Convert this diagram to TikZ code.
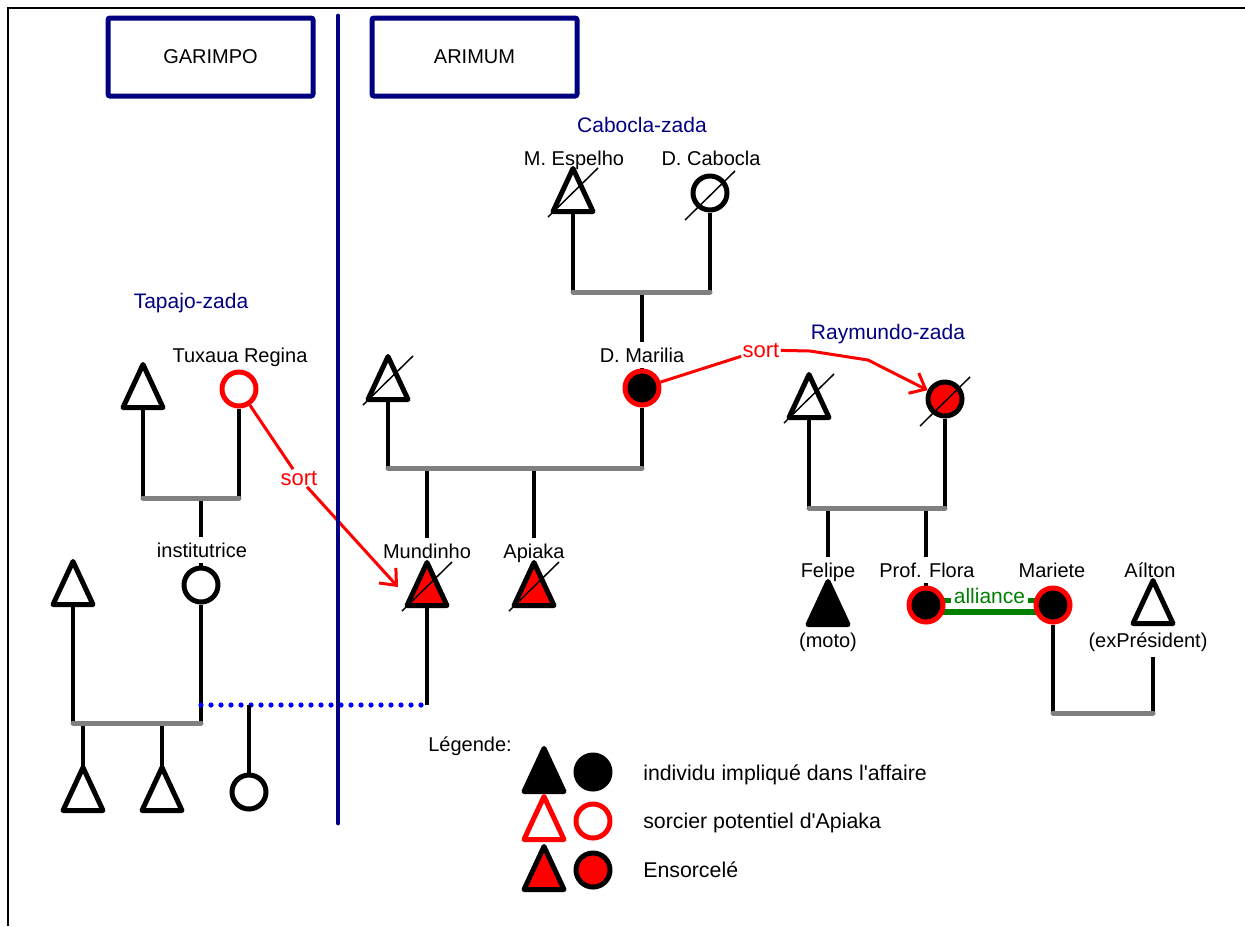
\documentclass[tikz,border=0pt]{standalone}
\usepackage{fontspec}
\setmainfont{Liberation Sans}
\usepackage{xcolor}
\usepackage{tikz}
\usetikzlibrary{arrows.meta,positioning,calc}

\definecolor{navyb}{RGB}{0,0,128}
\definecolor{allig}{RGB}{0,128,0}
\definecolor{barg}{RGB}{128,128,128}

\pgfdeclarelayer{back}
\pgfsetlayers{back,main}

\tikzset{
  male/.pic={
    \path[pic actions] (0,-21.5) -- (20,21.5) -- (-20,21.5) -- cycle;
    \coordinate (-n) at (0,-21.5);
    \coordinate (-s) at (0,21.5);
    \coordinate (-c) at (0,0);
  },
  dead/.pic={\draw[black,line width=1.1pt] (-25,27) -- (25,-22);}
}

\begin{document}
\begin{tikzpicture}[x=0.75pt,y=-0.75pt,
  txt/.style={font=\fontsize{15}{18}\selectfont},
  bigtxt/.style={font=\fontsize{15.75}{19}\selectfont},
  lab/.style={txt,fill=white,inner xsep=2pt,inner ysep=4.5pt,anchor=base},
  zada/.style={bigtxt,navyb,anchor=base},
  sorttxt/.style={font=\fontsize{16.5}{19}\selectfont,red,inner sep=1pt,anchor=base},
  legtxt/.style={font=\fontsize{16}{19}\selectfont,inner sep=0pt,anchor=base west},
  zone/.style={txt,draw=navyb,line width=3.75pt,rounded corners=1.5pt,
               minimum width=153.75pt,minimum height=58.5pt},
  sym/.style={draw=black,fill=white,line width=3.75pt,line join=round},
  impl/.style={sym,fill=black},
  sorc/.style={sym,draw=red},
  ens/.style={sym,fill=red},
  ring/.style={sym,draw=red,fill=black},
  fem/.style={circle,minimum size=25.5pt,inner sep=0pt},
  kin/.style={line width=3.6pt},
  bar/.style={barg,line width=3.75pt,line cap=round},
  sortarr/.style={red,line width=2.25pt,
                  -{Straight Barb[length=10pt,width=17pt,line width=2.25pt]}},
  alli/.style={allig,line width=4.5pt},
  dotlink/.style={blue,line width=3.9pt,line cap=round,dash pattern=on 0pt off 7.5pt}]

  \useasboundingbox (0,0) rectangle (1245,926);
  \draw[line width=1.5pt] (8,926) -- (8,7.5) -- (1245,7.5);

  % zones
  \node[zone] (garimpo) at (210.5,57) {GARIMPO};
  \node[zone] (arimum) at (474.5,57) {ARIMUM};
  \coordinate (sepT) at (338,16);
  \coordinate (sepB) at (338,823);
  \draw[navyb,line width=3.6pt,line cap=round] (sepT) -- (sepB);

  % labels
  \node[zada] (cabz) at (642,132) {Cabocla-zada};
  \node[zada] (raymz) at (888,339) {Raymundo-zada};
  \node[zada] (tapz) at (191,308) {Tapajo-zada};
  \node[lab] (lmesp) at (574,165) {M. Espelho};
  \node[lab] (ldcab) at (711,165) {D. Cabocla};
  \node[lab] (ldmar) at (642,362) {D. Marilia};
  \node[lab] (ltux) at (240,362) {Tuxaua Regina};
  \node[lab] (linst) at (202,557) {institutrice};
  \node[lab] (lmund) at (427,558) {Mundinho};
  \node[lab] (lapia) at (534,558) {Apiaka};
  \node[lab] (lfeli) at (828,577) {Felipe};
  \node[lab] (lflora) at (927,577) {Prof. Flora};
  \node[lab] (lmari) at (1052,577) {Mariete};
  \node[lab] (lailt) at (1150,577) {Aílton};
  \node[lab] (lmoto) at (828,647) {(moto)};
  \node[lab] (lexp) at (1148,647) {(exPrésident)};
  \node[sorttxt] (sortA) at (299,485) {sort};
  \node[sorttxt] (sortB) at (761,357) {sort};

  % Cabocla-zada
  \pic[sym] (mesp) at (573,190) {male};
  \pic at (mesp-c) {dead};
  \node[fem,sym] (dcab) at (710,193) {};
  \pic at (dcab) {dead};
  \node[fem,ring] (dmar) at (642,388) {};

  % Arimum
  \pic[sym] (arm) at (388,378) {male};
  \pic at (arm-c) {dead};
  \pic[ens] (mund) at (427,584) {male};
  \pic at (mund-c) {dead};
  \pic[ens] (apia) at (534,584) {male};
  \pic at (apia-c) {dead};

  % Raymundo-zada
  \pic[sym] (rmal) at (809,396) {male};
  \pic at (rmal-c) {dead};
  \node[fem,ens] (rfem) at (945,399) {};
  \pic at (rfem) {dead};
  \pic[impl] (feli) at (828,603) {male};
  \node[fem,ring] (flora) at (926,605) {};
  \node[fem,ring] (mari) at (1053,605) {};
  \pic[sym] (ailt) at (1153,602) {male};

  % Tapajo-zada and garimpo
  \pic[sym] (tmal) at (143,386) {male};
  \node[fem,sorc] (tux) at (239,389) {};
  \pic[sym] (lmal) at (73,583) {male};
  \node[fem,sym] (inst) at (201,585) {};
  \pic[sym] (kid1) at (83,789) {male};
  \pic[sym] (kid2) at (162,789) {male};
  \node[fem,sym] (kid3) at (249,792) {};

  % legend
  \node[txt,anchor=base] (leg) at (470,751) {Légende:};
  \pic[impl] (lg1t) at (544,770) {male};
  \node[fem,impl] (lg1c) at (593,772) {};
  \pic[sorc] (lg2t) at (544,818) {male};
  \node[fem,sorc] (lg2c) at (593,821) {};
  \pic[ens] (lg3t) at (544,868) {male};
  \node[fem,ens] (lg3c) at (593,870) {};
  \node[legtxt] (leg1) at (643,780) {individu impliqué dans l\textquotesingle affaire};
  \node[legtxt] (leg2) at (643,828) {sorcier potentiel d\textquotesingle Apiaka};
  \node[legtxt] (leg3) at (643,877) {Ensorcelé};

  % junctions
  \coordinate (cabL) at (573,292); \coordinate (cabR) at (710,292);
  \coordinate (cabM) at (642,292);
  \coordinate (arL) at (388,468); \coordinate (arR) at (642,468);
  \coordinate (arM1) at (427,468); \coordinate (arM2) at (534,468);
  \coordinate (mundB) at (427,705);
  \coordinate (raL) at (809,508); \coordinate (raR) at (945,508);
  \coordinate (raM1) at (828,508); \coordinate (raM2) at (926,508);
  \coordinate (maL) at (1053,713); \coordinate (maR) at (1153,713);
  \coordinate (taL) at (143,498); \coordinate (taR) at (239,498);
  \coordinate (taM) at (201,498);
  \coordinate (loL) at (73,723); \coordinate (loR) at (201,723);
  \coordinate (loM1) at (83,723); \coordinate (loM2) at (162,723);
  \coordinate (dotL) at (201,705); \coordinate (dotM) at (249,705);
  \coordinate (tipM) at (398,587);
  \coordinate (bendA) at (810,351); \coordinate (bendB) at (868,360);

  \begin{pgfonlayer}{back}
    \draw[kin] (mesp-s) -- (cabL);
    \draw[kin] (dcab) -- (cabR);
    \draw[kin] (cabM) -- (dmar);
    \draw[bar] (cabL) -- (cabR);

    \draw[kin] (arm-s) -- (arL);
    \draw[kin] (dmar) -- (arR);
    \draw[kin] (arM1) -- (mund-n);
    \draw[kin] (arM2) -- (apia-n);
    \draw[kin] (mund-s) -- (mundB);
    \draw[bar] (arL) -- (arR);

    \draw[kin] (rmal-s) -- (raL);
    \draw[kin] (rfem) -- (raR);
    \draw[kin] (raM1) -- (feli-n);
    \draw[kin] (raM2) -- (flora);
    \draw[bar] (raL) -- (raR);

    \draw[kin] (mari) -- (maL);
    \draw[kin] (ailt-s) -- (maR);
    \draw[bar] (maL) -- (maR);

    \draw[kin] (tmal-s) -- (taL);
    \draw[kin] (tux) -- (taR);
    \draw[kin] (taM) -- (inst);
    \draw[bar] (taL) -- (taR);

    \draw[kin] (lmal-s) -- (loL);
    \draw[kin] (inst) -- (loR);
    \draw[kin] (loM1) -- (kid1-n);
    \draw[kin] (loM2) -- (kid2-n);
    \draw[bar] (loL) -- (loR);

    \draw[dotlink] (dotL) -- (mundB);
    \draw[kin] (dotM) -- (kid3);

    % alliance
    \draw[alli] ([yshift=-5.25pt]flora.center) -- ([yshift=-5.25pt]mari.center);
    \draw[alli,line width=3.75pt] ([yshift=3.75pt]flora.center) --
      node[bigtxt,allig,fill=white,inner xsep=2pt,inner ysep=1pt,anchor=base,yshift=-2.25pt] (lalli) {alliance}
      ([yshift=3.75pt]mari.center);

    % sorts
    \draw[sortarr] (tux) -- (sortA) -- (tipM);
    \draw[sortarr] (dmar) -- (sortB) -- (bendA) -- (bendB) -- (rfem);
  \end{pgfonlayer}
\end{tikzpicture}
\end{document}
